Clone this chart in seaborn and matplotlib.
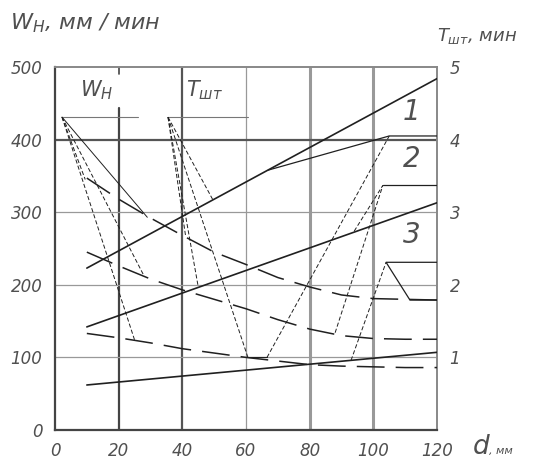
import matplotlib
matplotlib.use("Agg")
import matplotlib.pyplot as plt
import seaborn as sns

# --- data (d in mm, values on left scale) ---
d_curve = [10, 20, 30, 40, 50, 60, 70, 80, 90, 100, 110, 120]
wn_dash1 = [347, 318, 292, 268, 245, 228, 210, 197, 186, 181, 180, 179]
wn_dash2 = [245, 226, 208, 193, 180, 167, 152, 139, 130, 126, 125, 125]
wn_dash3 = [133, 127, 120, 112, 106, 100, 95, 90, 88, 87, 86, 86]

solid_d = [10, 120]
solid_1 = [223, 484]
solid_2 = [142, 313]
solid_3 = [62, 107]

# W_H fan: origin and end points
wn_origin = (2.2, 431)
wn_end_d = [9.5, 29, 28, 25]
wn_end_v = [345, 293, 212, 124]

# T_sht fan
t_origin = (35.5, 431)
t_end_d = [49.6, 41, 45, 60.6]
t_end_v = [317, 268, 197, 100]

# result constructions on the right
res1_d = [67, 105, 120]
res1_v = [358, 405, 405]
res1_dash_d = [66.6, 105]
res1_dash_v = [100, 405]
res1_foot_d = [60.6, 66.6]
res1_foot_v = [100, 100]

res2_d = [103, 120]
res2_v = [337, 337]
res2_dash_a_d = [88, 103]
res2_dash_a_v = [134, 337]
res2_dash_b_d = [94, 103]
res2_dash_b_v = [274, 337]

res3_d = [120, 104, 111.5, 120]
res3_v = [231, 231, 179, 179]
res3_dash_d = [93, 104]
res3_dash_v = [96, 231]

x_ticks = [0, 20, 40, 60, 80, 100, 120]
y_ticks = [0, 100, 200, 300, 400, 500]
t_ticks = [1, 2, 3, 4, 5]
curve_names = ["1", "2", "3"]
curve_name_v = [438, 373, 268]

sns.set_style("white")
plt.rcParams["font.family"] = ["DejaVu Sans"]
plt.rcParams["lines.scale_dashes"] = False
plt.rcParams["mathtext.fontset"] = "dejavusans"

txt = "#505050"
ink = "#202020"
thin_dash = (0, (3, 1.6))
long_dash = (0, (20, 8))

fig = plt.figure(figsize=(5.36, 4.63), dpi=100)
ax = fig.add_axes([55 / 536, 1 - 430 / 463, 382 / 536, 363 / 463])
ax.set_xlim(0, 120)
ax.set_ylim(0, 500)

# grid like the drawing
for xv, lw, c in [(40, 1.6, "#555"), (60, 0.9, "#999"), (80, 2.2, "#999"), (100, 2.2, "#999")]:
    ax.axvline(xv, color=c, lw=lw, zorder=1)
ax.axvline(20, ymin=0, ymax=443 / 500, color="#444", lw=1.6, zorder=1)
ax.axvline(20, ymin=490 / 500, ymax=1, color="#444", lw=1.2, zorder=1)
for yv, lw, c in [(100, 0.9, "#999"), (200, 0.9, "#999"), (300, 0.9, "#999"), (400, 1.6, "#555")]:
    ax.axhline(yv, color=c, lw=lw, zorder=1)

for side in ["left", "bottom"]:
    ax.spines[side].set_color("#444")
    ax.spines[side].set_linewidth(1.6)
for side in ["top", "right"]:
    ax.spines[side].set_color("#888")
    ax.spines[side].set_linewidth(1.4)

# label lines at top
ax.plot([wn_origin[0], 26], [431, 431], color="#777", lw=0.8)
ax.plot([t_origin[0], 60.5], [431, 431], color="#777", lw=0.8)


def seg(xs, ys, ls="-", lw=0.7, color=ink):
    sns.lineplot(x=xs, y=ys, ax=ax, sort=False, estimator=None,
                 color=color, lw=lw, linestyle=ls, zorder=3)


# dashed hyperbola-like curves
for vals in [wn_dash1, wn_dash2, wn_dash3]:
    seg(d_curve, vals, ls=long_dash, lw=1.1)

# solid straight lines
for vals in [solid_1, solid_2, solid_3]:
    seg(solid_d, vals, lw=1.2)

# fans
for i, (dx, vy) in enumerate(zip(wn_end_d, wn_end_v)):
    seg([wn_origin[0], dx], [wn_origin[1], vy], ls="-" if i == 1 else thin_dash, lw=0.7)
for dx, vy in zip(t_end_d, t_end_v):
    seg([t_origin[0], dx], [t_origin[1], vy], ls=thin_dash, lw=0.7)

# right side constructions
seg(res1_d, res1_v, lw=0.9)
seg(res1_foot_d, res1_foot_v, lw=0.8)
seg(res1_dash_d, res1_dash_v, ls=thin_dash)
seg(res2_d, res2_v, lw=0.9)
seg(res2_dash_a_d, res2_dash_a_v, ls=thin_dash)
seg(res2_dash_b_d, res2_dash_b_v, ls=thin_dash)
seg(res3_d, res3_v, lw=0.9)
seg(res3_dash_d, res3_dash_v, ls=thin_dash)

# ticks
ax.set_xticks(x_ticks)
ax.set_yticks(y_ticks)
ax.set_xticklabels([str(v) for v in x_ticks])
ax.set_yticklabels([str(v) for v in y_ticks])
ax.tick_params(length=0, pad=9, labelsize=12, labelcolor=txt)
for lab in ax.get_xticklabels() + ax.get_yticklabels():
    lab.set_fontstyle("oblique")
ax.set_xlabel("")
ax.set_ylabel("")

ax2 = ax.twinx()
ax2.set_ylim(0, 5)
ax2.set_yticks(t_ticks)
ax2.set_yticklabels([str(v) for v in t_ticks])
ax2.tick_params(length=0, pad=9, labelsize=12, labelcolor=txt)
for lab in ax2.get_yticklabels():
    lab.set_fontstyle("oblique")
for s in ax2.spines.values():
    s.set_visible(False)

# curve numbers
for name, vy in zip(curve_names, curve_name_v):
    ax.text(112, vy, name, fontsize=20, style="oblique", color=txt,
            ha="center", va="center")

# inner labels
ax.text(13, 468, r"$W_{Н}$", fontsize=15, color=txt, ha="center", va="center")
ax.text(47, 468, r"$T_{шт}$", fontsize=15, color=txt, ha="center", va="center")

# axis titles
fig.text(10 / 536, 1 - 23 / 463, r"$W_{Н}$, мм / мин", fontsize=16, style="oblique",
         color=txt, ha="left", va="center")
fig.text(437 / 536, 1 - 36 / 463, r"$T_{шт}$, мин", fontsize=13, style="oblique",
         color=txt, ha="left", va="center")
fig.text(472 / 536, 1 - 447 / 463, r"$d$", fontsize=19, color=txt, ha="left", va="center")
fig.text(489 / 536, 1 - 451 / 463, ", мм", fontsize=8, style="oblique", color=txt,
         ha="left", va="center")

fig.savefig("out.png", dpi=100)
